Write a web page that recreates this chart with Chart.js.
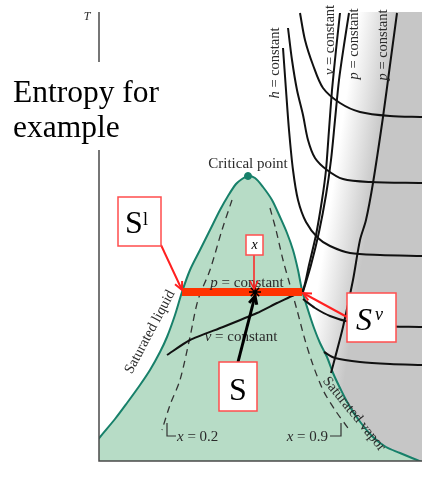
<!DOCTYPE html>
<html>
<head>
<meta charset="utf-8">
<script src="https://cdn.jsdelivr.net/npm/chart.js@4/dist/chart.umd.min.js"></script>
<style>
  html, body { margin: 0; padding: 0; background: #fff; overflow: hidden; }
  canvas { display: block; }
</style>
</head>
<body>
<canvas id="tsChart" width="422" height="478"></canvas>
<script>
// T-s diagram: s (entropy) on x, T on y, arbitrary units
const satDome = [[-18,0],[1,24],[16,42],[28,58],[41,76],[51,91],[61,109],[68,124],[76,146],[83,169],
  [91,191],[101,211],[111,231],[121,251],[129,265],[137,277],[143,282],[149,285],[156,283],[164,274],
  [173,261],[181,244],[188,228],[194,211],[199,191],[203,171],[209,151],[215,133],[221,118],[228,104],
  [234,88],[242,71],[251,54],[262,38],[274,24],[287,14],[301,8],[313,3],[323,-1]];
const quality02 = [[133,261],[123,231],[111,191],[99,161],[91,124],[81,81],[71,56],[63,31]];
const quality09 = [[171,253],[177,231],[184,201],[191,176],[198,151],[206,121],[214,96],[224,71],[236,51],[249,33]];
const tick02 = [[68,38],[68,25],[77,25]];
const tick09 = [[231,25],[242,25],[242,38]];
const vLine = [[68,106],[91,121],[124,134],[158,148],[178,158],[195,166],[204,171],[210,196],[217,226],
  [223,261],[227,291],[230,331],[233,371],[237,411],[241,448]];
const pLineHigh = [[204,169],[212,196],[220,229],[227,266],[232,301],[236,341],[240,381],[245,416],[250,448]];
const pLineLow = [[298,448],[291,396],[284,344],[274,278],[267,241],[261,221],[254,181],[244,134],[236,103],[232,88]];
const hLine1 = [[184,413],[187,371],[190,331],[194,291],[199,261],[207,239],[219,223],[231,215],[251,208],[281,206],[323,205]];
const hLine2 = [[189,433],[193,401],[198,371],[204,346],[209,321],[216,303],[228,291],[244,282],[271,279],[323,278]];
const hLine3 = [[201,448],[206,421],[214,396],[224,373],[241,358],[261,349],[291,345],[323,344]];
const hLine4 = [[204,162],[216,153],[231,145],[251,139],[281,135],[323,134]];
const hLine5 = [[225,109],[236,103],[261,99],[291,97],[323,96]];
const mixLine = [[83,169],[203,169]];
const criticalPoint = [[149,285]];
const mixState = [[156,169]];

const serif = '"Liberation Serif", "Times New Roman", serif';
const ink = '#2b2b2b';
const pts = arr => arr.map(p => ({ x: p[0], y: p[1] }));

function grayShade(context) {
  const chart = context.chart;
  const { ctx, chartArea, scales } = chart;
  if (!chartArea) return '#c6c6c6';
  const g = ctx.createLinearGradient(
    scales.x.getPixelForValue(232), scales.y.getPixelForValue(264),
    scales.x.getPixelForValue(272), scales.y.getPixelForValue(258));
  g.addColorStop(0, '#ffffff');
  g.addColorStop(1, '#c6c6c6');
  return g;
}

function curve(data, extra) {
  return Object.assign({
    data: pts(data), showLine: true, pointRadius: 0, borderColor: '#111',
    borderWidth: 2, tension: 0.3, fill: false, order: 10
  }, extra || {});
}

// text runs: [[text, italic], ...] drawn at (x, y)
function runs(ctx, parts, x, y, size, align) {
  let w = 0;
  parts.forEach(p => { ctx.font = (p[1] ? 'italic ' : '') + size + 'px ' + serif; w += ctx.measureText(p[0]).width; });
  let cx = align === 'left' ? x : align === 'right' ? x - w : x - w / 2;
  parts.forEach(p => {
    ctx.font = (p[1] ? 'italic ' : '') + size + 'px ' + serif;
    ctx.fillText(p[0], cx, y);
    cx += ctx.measureText(p[0]).width;
  });
}

function arrow(ctx, x1, y1, x2, y2, color, width) {
  const a = Math.atan2(y2 - y1, x2 - x1), h = 9;
  ctx.strokeStyle = color; ctx.lineWidth = width;
  ctx.beginPath(); ctx.moveTo(x1, y1); ctx.lineTo(x2, y2); ctx.stroke();
  ctx.beginPath();
  ctx.moveTo(x2 - h * Math.cos(a - 0.45), y2 - h * Math.sin(a - 0.45));
  ctx.lineTo(x2, y2);
  ctx.lineTo(x2 - h * Math.cos(a + 0.45), y2 - h * Math.sin(a + 0.45));
  ctx.stroke();
}

const overlay = {
  id: 'overlay',
  afterDatasetsDraw(chart) {
    const { ctx, chartArea: a, scales } = chart;
    const X = s => scales.x.getPixelForValue(s), Y = t => scales.y.getPixelForValue(t);
    ctx.save();
    // axes
    ctx.strokeStyle = '#4a4a4a'; ctx.lineWidth = 1.5;
    ctx.beginPath(); ctx.moveTo(a.left, a.top); ctx.lineTo(a.left, a.bottom); ctx.lineTo(a.right, a.bottom); ctx.stroke();

    ctx.fillStyle = ink; ctx.textBaseline = 'middle';
    runs(ctx, [['T', true]], X(-12), Y(444), 12, 'center');
    runs(ctx, [['Critical point', false]], X(149), Y(297), 15, 'center');
    runs(ctx, [['p', true], [' = constant', false]], X(148), Y(178), 15, 'center');
    runs(ctx, [['v', true], [' = constant', false]], X(142), Y(124), 15, 'center');
    runs(ctx, [['x', true], [' = 0.2', false]], X(78), Y(24), 15, 'left');
    runs(ctx, [['x', true], [' = 0.9', false]], X(229), Y(24), 15, 'right');

    const rotated = [
      [[['h', true], [' = constant', false]], 176, 398, -90],
      [[['v', true], [' = constant', false]], 231, 421, -90],
      [[['p', true], [' = constant', false]], 255, 417, -90],
      [[['p', true], [' = constant', false]], 284, 416, -90],
      [[['Saturated liquid', false]], 51, 129, -62],
      [[['Saturated vapor', false]], 255, 47, 51]
    ];
    rotated.forEach(r => {
      ctx.save();
      ctx.translate(X(r[1]), Y(r[2]));
      ctx.rotate(r[3] * Math.PI / 180);
      runs(ctx, r[0], 0, 0, 14.5, 'center');
      ctx.restore();
    });

    // arrows
    arrow(ctx, X(62), Y(216), X(83), Y(171), '#ff2020', 2);
    arrow(ctx, X(248), Y(144), X(204), Y(168), '#ff2020', 2);
    arrow(ctx, X(155), Y(206), X(155), Y(172), '#ff2020', 1.5);
    arrow(ctx, X(139), Y(99), X(156), Y(165), '#000', 3);

    // boxes
    const box = (s0, t0, s1, t1) => {
      ctx.fillStyle = '#fff'; ctx.fillRect(X(s0), Y(t0), X(s1) - X(s0), Y(t1) - Y(t0));
      ctx.strokeStyle = '#ff4d4d'; ctx.lineWidth = 1.5;
      ctx.strokeRect(X(s0), Y(t0), X(s1) - X(s0), Y(t1) - Y(t0));
      ctx.fillStyle = '#000';
    };
    ctx.textBaseline = 'alphabetic';
    box(19, 264, 62, 215);
    ctx.font = '32px ' + serif; ctx.fillText('S', X(26), Y(228));
    ctx.font = '18px ' + serif; ctx.fillText('l', X(44), Y(236));
    box(147, 226, 164, 206);
    ctx.textBaseline = 'middle';
    runs(ctx, [['x', true]], X(155.5), Y(216), 14, 'center');
    ctx.textBaseline = 'alphabetic';
    box(248, 168, 297, 119);
    ctx.font = 'italic 32px ' + serif; ctx.fillText('S', X(257), Y(131));
    ctx.font = 'italic 18px ' + serif; ctx.fillText('v', X(276), Y(141));
    box(120, 99, 158, 50);
    ctx.font = '32px ' + serif; ctx.fillText('S', X(130), Y(61));

    // title box covering the axis
    ctx.fillStyle = '#fff';
    ctx.fillRect(X(-99), Y(399), X(81) - X(-99), Y(311) - Y(399));
    ctx.fillStyle = '#000'; ctx.font = '31.5px ' + serif;
    ctx.fillText('Entropy for', X(-86), Y(359));
    ctx.fillText('example', X(-86), Y(324));
    ctx.restore();
  }
};

new Chart(document.getElementById('tsChart'), {
  type: 'scatter',
  data: {
    datasets: [
      curve(satDome.filter(p => p[0] >= 199), { borderWidth: 0, fill: 'end', backgroundColor: grayShade, order: 30 }),
      curve(satDome, { borderColor: '#17806a', borderWidth: 2, fill: 'start', backgroundColor: '#b7dcc6', order: 20 }),
      curve(quality02, { borderColor: '#333', borderWidth: 1.3, borderDash: [7, 5], order: 15 }),
      curve(quality09, { borderColor: '#333', borderWidth: 1.3, borderDash: [7, 5], order: 15 }),
      curve(tick02, { borderColor: '#333', borderWidth: 1.2, tension: 0, order: 15 }),
      curve(tick09, { borderColor: '#333', borderWidth: 1.2, tension: 0, order: 15 }),
      curve(vLine, { tension: 0.2 }),
      curve(pLineHigh),
      curve(pLineLow),
      curve(hLine1),
      curve(hLine2),
      curve(hLine3),
      curve(hLine4),
      curve(hLine5),
      curve(mixLine, { borderColor: '#ff3300', borderWidth: 8, tension: 0, borderCapStyle: 'butt', order: 5 }),
      { data: pts(criticalPoint), pointRadius: 3.5, backgroundColor: '#17806a', borderColor: '#17806a', order: 4 },
      { data: pts(mixState), pointStyle: 'star', pointRadius: 6, borderColor: '#000', borderWidth: 1.5, order: 3 }
    ]
  },
  options: {
    responsive: false,
    animation: false,
    layout: { autoPadding: false, padding: { left: 99, top: 12, right: 0, bottom: 17 } },
    scales: {
      x: { type: 'linear', display: false, min: 0, max: 323 },
      y: { type: 'linear', display: false, min: 0, max: 449 }
    },
    plugins: { legend: { display: false }, tooltip: { enabled: false } }
  },
  plugins: [overlay]
});
</script>
</body>
</html>
